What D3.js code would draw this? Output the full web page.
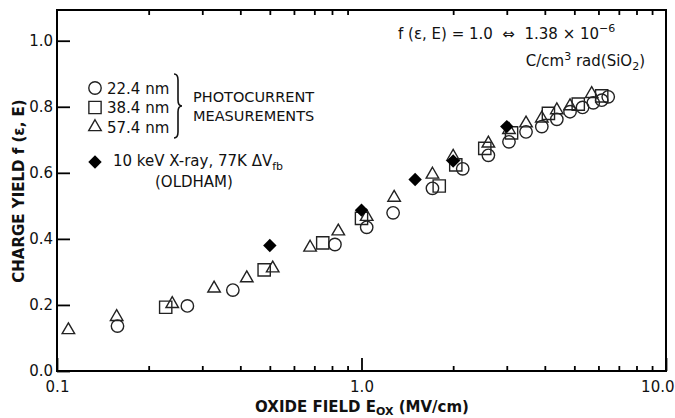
<!DOCTYPE html>
<html>
<head>
<meta charset="utf-8">
<script src="https://cdn.jsdelivr.net/npm/d3@7"></script>
<style>
  html, body { margin: 0; padding: 0; background: #fff; }
  svg { display: block; }
  text { font-family: "DejaVu Sans", Verdana, sans-serif; fill: #111; }
</style>
</head>
<body>
<svg id="chart" width="675" height="418"></svg>
<script>
// ---- data ----
const circles22 = [
  [0.158, 0.136], [0.268, 0.197], [0.378, 0.245], [0.818, 0.383], [1.04, 0.435],
  [1.27, 0.479], [1.71, 0.553], [2.15, 0.612], [2.61, 0.653], [3.05, 0.694],
  [3.47, 0.724], [3.91, 0.740], [4.38, 0.762], [4.84, 0.785], [5.32, 0.798],
  [5.77, 0.812], [6.15, 0.820], [6.46, 0.830]
];
const squares38 = [
  [0.2275, 0.193], [0.479, 0.306], [0.746, 0.388], [1.0, 0.462], [1.80, 0.560],
  [2.04, 0.624], [2.54, 0.674], [3.11, 0.721], [4.11, 0.780], [5.15, 0.808],
  [6.15, 0.833]
];
const triangles57 = [
  [0.109, 0.124], [0.157, 0.164], [0.239, 0.203], [0.328, 0.250], [0.420, 0.281],
  [0.511, 0.311], [0.678, 0.374], [0.839, 0.423], [1.04, 0.467], [1.28, 0.525],
  [1.71, 0.595], [2.0, 0.649], [2.61, 0.689], [3.05, 0.730], [3.47, 0.750],
  [3.91, 0.765], [4.38, 0.790], [4.84, 0.802], [5.70, 0.839]
];
const oldham = [
  [0.5, 0.38], [1.0, 0.487], [1.5, 0.58], [2.0, 0.636], [3.0, 0.740]
];
const yTicks = [0.0, 0.2, 0.4, 0.6, 0.8, 1.0];
const xMajorTicks = [0.1, 1.0, 10.0];
const xMinorTicks = [0.2, 0.3, 0.4, 0.5, 0.6, 0.7, 0.8, 0.9, 2, 3, 4, 5, 6, 7, 8, 9];
const legendLabels = ["22.4 nm", "38.4 nm", "57.4 nm"];

// ---- layout ----
const L = 57, R = 666, T = 10, B = 371;
const svg = d3.select("#chart");
const x = d3.scaleLog().domain([0.1, 10]).range([L, R]);
const y = d3.scaleLinear().domain([0, 1.093]).range([B, T]);

const STROKE = "#222";

// axes
const gx = svg.append("g").attr("transform", `translate(0,${B})`);
gx.call(d3.axisBottom(x).tickValues(xMinorTicks).tickSize(-5).tickFormat(""));
gx.select(".domain").remove();
const gx2 = svg.append("g").attr("transform", `translate(0,${B})`);
gx2.call(d3.axisBottom(x).tickValues(xMajorTicks).tickSize(-13).tickPadding(10).tickFormat(d3.format(".1f")));
gx2.select(".domain").remove();
// keep the last label inside the picture
gx2.selectAll(".tick text").filter(d => d === 10).attr("text-anchor", "end").attr("x", 674 - R);

const gt = svg.append("g").attr("transform", `translate(0,${T})`);
gt.call(d3.axisTop(x).tickValues(xMinorTicks).tickSize(-5).tickFormat(""));
gt.select(".domain").remove();

const gy = svg.append("g").attr("transform", `translate(${L},0)`);
gy.call(d3.axisLeft(y).tickValues(yTicks).tickSize(-13).tickPadding(4).tickFormat(d3.format(".1f")));
gy.select(".domain").remove();

svg.selectAll(".tick line").attr("stroke", "#000").attr("stroke-width", 1.8);
svg.selectAll(".tick text").style("font-family", '"DejaVu Sans", Verdana, sans-serif')
  .style("font-size", "15px").attr("fill", "#111");

// frame
svg.append("rect").attr("x", L).attr("y", T).attr("width", R - L).attr("height", B - T)
  .attr("fill", "none").attr("stroke", "#000").attr("stroke-width", 2);

// axis titles
const xt = svg.append("text").attr("x", 362).attr("y", 412).attr("text-anchor", "middle")
  .style("font-size", "15px").style("font-weight", "bold");
xt.append("tspan").text("OXIDE FIELD E");
xt.append("tspan").attr("dy", 3).style("font-size", "11px").text("OX");
xt.append("tspan").attr("dy", -3).text(" (MV/cm)");

svg.append("text").attr("transform", "translate(24,191) rotate(-90)").attr("text-anchor", "middle")
  .style("font-size", "15px").style("font-weight", "bold").text("CHARGE YIELD f (ε, E)");

// symbols
const symCircle = d3.symbol().type(d3.symbolCircle).size(121);
const symSquare = d3.symbol().type(d3.symbolSquare).size(150);
const symTri = d3.symbol().type(d3.symbolTriangle).size(68);
const symDiamond = d3.symbol().type(d3.symbolSquare).size(90);

function plot(data, sym, opts) {
  svg.append("g").selectAll("path").data(data).join("path")
    .attr("d", sym)
    .attr("transform", d => `translate(${x(d[0])},${y(d[1])})` + (opts.rot ? " rotate(45)" : ""))
    .attr("fill", opts.fill || "none")
    .attr("stroke", opts.fill ? "none" : STROKE)
    .attr("stroke-width", 1.4);
}
plot(squares38, symSquare, {});
plot(circles22, symCircle, {});
plot(triangles57, symTri, {});
plot(oldham, symDiamond, { fill: "#000", rot: true });

// legend
const legendSyms = [symCircle, symSquare, symTri];
const legY = [88, 107.5, 127];
legendLabels.forEach((lab, i) => {
  svg.append("path").attr("d", legendSyms[i]).attr("transform", `translate(95,${legY[i]})`)
    .attr("fill", "none").attr("stroke", STROKE).attr("stroke-width", 1.4);
  svg.append("text").attr("x", 107).attr("y", legY[i] + 5.5).style("font-size", "15px").text(lab);
});
// brace
svg.append("path")
  .attr("d", "M174,74 Q178,74 178,80 L178,100 Q178,106 182,106 Q178,106 178,112 L178,132 Q178,138 174,138")
  .attr("fill", "none").attr("stroke", "#111").attr("stroke-width", 1.6);
svg.append("text").attr("x", 193).attr("y", 101.5).style("font-size", "14.5px").text("PHOTOCURRENT");
svg.append("text").attr("x", 193).attr("y", 120.5).style("font-size", "14.5px").text("MEASUREMENTS");

svg.append("path").attr("d", symDiamond).attr("transform", "translate(95,162) rotate(45)").attr("fill", "#000");
const lt = svg.append("text").attr("x", 113).attr("y", 165.5).style("font-size", "15px");
lt.append("tspan").text("10 keV X-ray, 77K ΔV");
lt.append("tspan").attr("dy", 4).style("font-size", "11px").text("fb");
svg.append("text").attr("x", 155).attr("y", 186.5).style("font-size", "15px").text("(OLDHAM)");

// annotation
const a1 = svg.append("text").attr("x", 398).attr("y", 38.5).style("font-size", "15px");
a1.append("tspan").text("f (ε, E) = 1.0\u00A0\u00A0⇔\u00A0\u00A01.38 × 10");
a1.append("tspan").attr("dy", -7).style("font-size", "11px").text("−6");
const a2 = svg.append("text").attr("x", 645).attr("y", 65.5).attr("text-anchor", "end").style("font-size", "15px");
a2.append("tspan").text("C/cm");
a2.append("tspan").attr("dy", -6).style("font-size", "11px").text("3");
a2.append("tspan").attr("dy", 6).text(" rad(SiO");
a2.append("tspan").attr("dy", 4).style("font-size", "11px").text("2");
a2.append("tspan").attr("dy", -4).text(")");
</script>
</body>
</html>
